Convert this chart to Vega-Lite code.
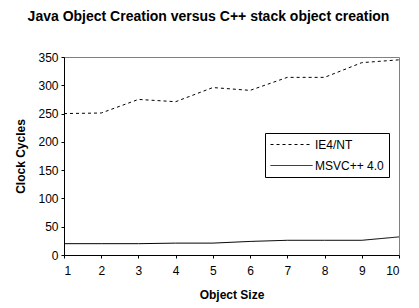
{
  "$schema": "https://vega.github.io/schema/vega-lite/v6.json",
  "width": 335,
  "height": 198,
  "autosize": "none",
  "padding": {"left": 64, "top": 57, "right": 20, "bottom": 53},
  "background": "white",
  "title": {
    "text": "Java Object Creation versus C++ stack object creation",
    "font": "Liberation Sans",
    "fontSize": 14,
    "fontWeight": "bold",
    "color": "black",
    "anchor": "middle",
    "dx": -23,
    "offset": 27
  },
  "data": {
    "values": [
      {"size": 1, "series": "IE4/NT", "cycles": 250},
      {"size": 2, "series": "IE4/NT", "cycles": 251},
      {"size": 3, "series": "IE4/NT", "cycles": 275},
      {"size": 4, "series": "IE4/NT", "cycles": 271},
      {"size": 5, "series": "IE4/NT", "cycles": 296},
      {"size": 6, "series": "IE4/NT", "cycles": 291},
      {"size": 7, "series": "IE4/NT", "cycles": 314},
      {"size": 8, "series": "IE4/NT", "cycles": 314},
      {"size": 9, "series": "IE4/NT", "cycles": 340},
      {"size": 10, "series": "IE4/NT", "cycles": 345},
      {"size": 1, "series": "MSVC++ 4.0", "cycles": 20},
      {"size": 2, "series": "MSVC++ 4.0", "cycles": 20},
      {"size": 3, "series": "MSVC++ 4.0", "cycles": 20},
      {"size": 4, "series": "MSVC++ 4.0", "cycles": 21},
      {"size": 5, "series": "MSVC++ 4.0", "cycles": 21},
      {"size": 6, "series": "MSVC++ 4.0", "cycles": 24},
      {"size": 7, "series": "MSVC++ 4.0", "cycles": 26},
      {"size": 8, "series": "MSVC++ 4.0", "cycles": 26},
      {"size": 9, "series": "MSVC++ 4.0", "cycles": 26},
      {"size": 10, "series": "MSVC++ 4.0", "cycles": 32}
    ]
  },
  "mark": {"type": "line", "strokeWidth": 1, "color": "black"},
  "encoding": {
    "x": {
      "field": "size",
      "type": "quantitative",
      "scale": {"domain": [1, 10], "nice": false, "zero": false},
      "axis": {
        "title": "Object Size",
        "values": [1, 2, 3, 4, 5, 6, 7, 8, 9, 10],
        "grid": false,
        "domainColor": "black",
        "tickColor": "black",
        "tickSize": 3,
        "labelPadding": 7,
        "labelFont": "Liberation Sans",
        "labelFontSize": 12,
        "labelColor": "black",
        "titleFont": "Liberation Sans",
        "titleFontSize": 12,
        "titleFontWeight": "bold",
        "titleColor": "black",
        "titlePadding": 13
      }
    },
    "y": {
      "field": "cycles",
      "type": "quantitative",
      "scale": {"domain": [0, 350], "nice": false},
      "axis": {
        "title": "Clock Cycles",
        "values": [0, 50, 100, 150, 200, 250, 300, 350],
        "grid": false,
        "domainColor": "black",
        "tickColor": "black",
        "tickSize": 3,
        "labelPadding": 3,
        "labelFont": "Liberation Sans",
        "labelFontSize": 12,
        "labelColor": "black",
        "titleFont": "Liberation Sans",
        "titleFontSize": 12,
        "titleFontWeight": "bold",
        "titleColor": "black",
        "titlePadding": 10
      }
    },
    "strokeDash": {
      "field": "series",
      "type": "nominal",
      "scale": {"domain": ["IE4/NT", "MSVC++ 4.0"], "range": [[3, 3], [1, 0]]},
      "legend": {
        "title": null,
        "orient": "none",
        "legendX": 201,
        "legendY": 76,
        "strokeColor": "black",
        "fillColor": "white",
        "padding": 5,
        "rowPadding": 8,
        "clipHeight": 13,
        "symbolType": "stroke",
        "symbolSize": 1764,
        "symbolStrokeWidth": 1,
        "symbolStrokeColor": "black",
        "labelFont": "Liberation Sans",
        "labelFontSize": 12,
        "labelColor": "black",
        "labelOffset": 2
      }
    }
  },
  "config": {
    "view": {"stroke": "#808080", "strokeWidth": 1}
  }
}
